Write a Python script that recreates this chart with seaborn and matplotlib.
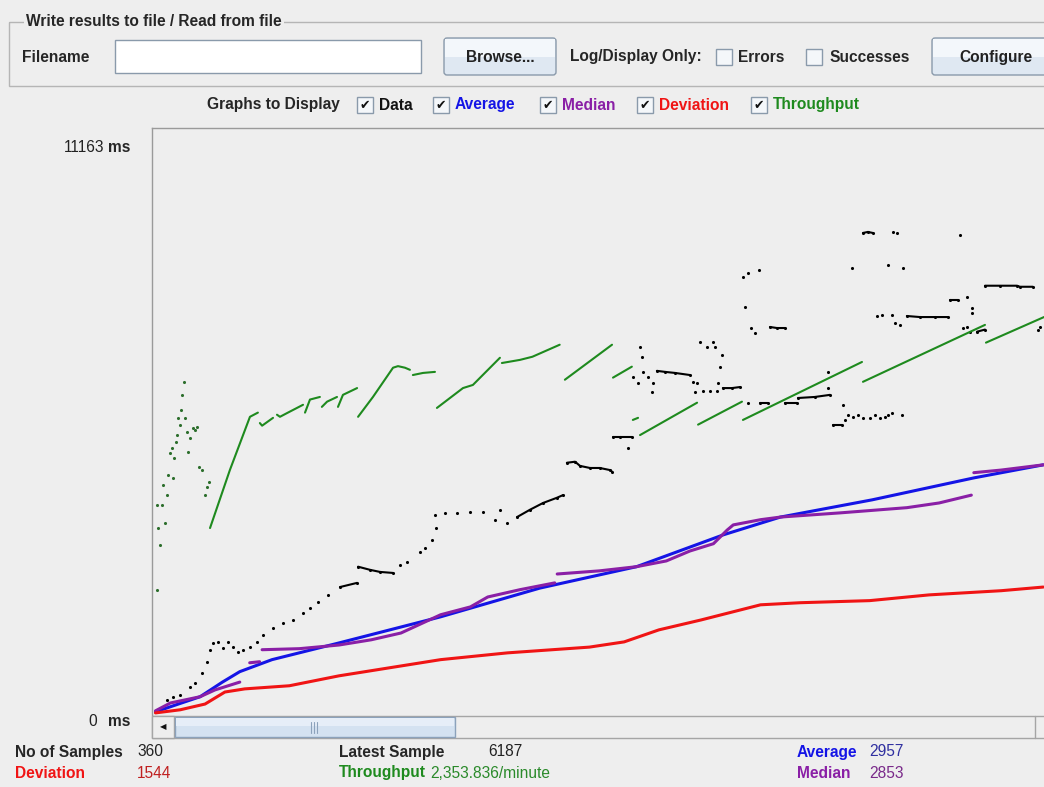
import numpy as np
import pandas as pd
import matplotlib
matplotlib.use("Agg")
import matplotlib.pyplot as plt
import seaborn as sns
from matplotlib.patches import Rectangle, FancyBboxPatch

# JMeter "Graph Results" screenshot
# x = sample number, y = time in ms

# Average (blue)
avg_x = [1, 9, 19, 28, 35, 48, 75, 116, 156, 195, 230, 253, 290, 331, 359]
avg_ms = [20, 150, 310, 590, 790, 1020, 1340, 1840, 2390, 2800, 3410, 3750, 4080, 4500, 4750]

# Deviation (red)
dev_x = [1, 11, 21, 29, 37, 55, 75, 116, 143, 176, 190, 204, 221, 245, 261, 289, 313, 342, 359]
dev_ms = [0, 60, 170, 400, 460, 520, 710, 1020, 1150, 1260, 1360, 1590, 1780, 2070, 2110, 2150, 2260, 2340, 2410]

# Median (purple), drawn in pieces
med_x = [1, 7, 19, 25, 35,
         39, 43,
         44, 59, 75, 88, 100, 116, 128, 135, 148, 162,
         163, 180, 195, 207, 216.5, 226, 231.5, 234, 245, 253, 277, 304, 317, 330,
         331, 342, 359]
med_ms = [40, 190, 310, 440, 590,
          960, 980,
          1210, 1230, 1300, 1400, 1530, 1880, 2030, 2220, 2360, 2490,
          2660, 2720, 2800, 2910, 3100, 3240, 3500, 3600, 3700, 3750, 3830, 3930, 4020, 4170,
          4600, 4650, 4750]
med_seg = [1] * 5 + [2] * 2 + [3] * 10 + [4] * 14 + [5] * 3

# Throughput (green), drawn in pieces
thr_x = [23.0, 31.0, 39.1, 42.3,
         43.1, 44.0, 48.4,
         50.0, 51.2, 54.0, 60.5,
         61.3, 63.3, 67.3,
         68.1, 70.2, 74.2,
         74.6, 76.6, 82.3,
         82.7, 88.7, 96.8, 98.8, 101.6, 103.6,
         104.8, 108.9, 113.7,
         114.5, 125.0, 129.0, 139.9,
         140.7, 148.0, 153.0, 164.0,
         166.1, 185.1,
         185.5, 193.1,
         193.5, 195.6,
         196.4, 219.4,
         219.8, 237.5,
         237.9, 285.9,
         286.3, 335.5,
         335.9, 359.3]
thr_ms = [3540, 4650, 5670, 5750,
          5550, 5500, 5650,
          5710, 5670, 5740, 5900,
          5750, 6000, 6050,
          5860, 5960, 6050,
          5860, 6090, 6220,
          5670, 6050, 6610, 6640, 6610, 6570,
          6470, 6510, 6530,
          5840, 6220, 6280, 6800,
          6700, 6760, 6820, 7050,
          6380, 7050,
          6420, 6630,
          5610, 5650,
          5320, 5940,
          5520, 5960,
          5610, 6720,
          6340, 7430,
          7090, 7580]
thr_seg = ([1] * 4 + [2] * 3 + [3] * 4 + [4] * 3 + [5] * 3 + [6] * 3 + [7] * 6 + [8] * 3 + [9] * 4
           + [10] * 4 + [11] * 2 + [12] * 2 + [13] * 2 + [14] * 2 + [15] * 2 + [16] * 2 + [17] * 2 + [18] * 2)

# early scattered throughput points
thr_dot_x = [1.6, 2.8, 2.0, 3.6, 4.0, 4.8, 5.6, 6.0, 6.9, 7.7, 8.1, 8.5, 9.3, 9.7, 10.1, 10.9,
             11.3, 11.7, 12.5, 12.9, 13.7, 14.1, 14.9, 16.1, 16.9, 17.7, 18.5, 19.8, 21.0, 21.8,
             22.6, 1.6]
thr_dot_ms = [3980, 3220, 3540, 3980, 4370, 3640, 4180, 4560, 4980, 5080, 4500, 4880, 5190, 5320,
              5650, 5520, 5800, 6090, 6340, 5650, 5380, 5000, 5270, 5460, 5420, 5480, 4710, 4650,
              4180, 4330, 4420, 2360]

# Data (black): run 0 = single dots, other numbers = short solid runs
data_x = [1.6, 5.6, 8.1, 10.9, 14.9, 16.9, 19.8, 21.8, 23.0, 24.2, 26.2, 28.2, 30.2, 32.3, 34.3,
          36.3, 39.1, 41.9, 44.4, 48.4, 52.4, 56.5, 60.5, 63.3, 66.5, 70.6,
          75.4, 82.3,
          82.7, 87.5, 91.5, 96.8,
          99.6, 102.4, 107.7, 109.7, 112.5, 114.1,
          113.7, 117.7, 122.6, 127.8, 133.1, 137.9, 139.9, 142.7,
          146.8, 152.0, 157.3, 162.9, 165.3,
          166.9, 170.2, 172.2, 176.2, 180.2, 184.3, 185.1,
          185.5, 188.3, 193.1,
          191.5, 196.4, 197.2, 193.5, 195.6, 197.6, 199.6, 201.6, 201.2,
          203.2, 206.5, 210.5, 216.5,
          217.7, 219.4, 220.6, 223.4, 225.8, 226.6, 229.4, 228.6, 227.8, 218.5, 221.8, 224.6, 227.4,
          229.8, 233.5, 236.7,
          237.9, 239.9, 244.4, 238.7, 241.1, 242.7,
          248.8, 251.6, 254.8,
          239.9,
          244.8, 248.0,
          254.8, 259.7,
          260.1, 266.9, 273.0,
          272.2, 272.2,
          274.2, 277.8,
          279.0, 280.2, 282.3, 284.3, 286.3, 289.1, 291.1, 293.1, 295.2, 296.4, 298.0, 302.0, 278.2,
          286.3, 288.3, 290.3,
          298.4, 300.0, 325.4, 281.9, 296.4, 302.4,
          291.9, 294.0, 298.0, 299.2, 301.2,
          304.0, 309.3, 315.3, 320.6,
          321.4, 324.6,
          328.2, 330.2, 330.2, 326.6, 328.2, 329.4,
          332.3, 335.5,
          335.5, 341.5, 348.4, 349.6, 354.8,
          356.9, 357.7]
data_ms = [60, 250, 310, 340, 500, 570, 770, 980, 1210, 1340, 1360, 1240, 1360, 1260, 1170,
           1210, 1260, 1360, 1490, 1630, 1720, 1780, 1920, 2010, 2130, 2260,
           2410, 2490,
           2800, 2740, 2700, 2680,
           2830, 2890, 3080, 3160, 3310, 3540,
           3790, 3830, 3830, 3850, 3850, 3700, 3890, 3640,
           3750, 3890, 4020, 4120, 4170,
           4790, 4810, 4730, 4690, 4690, 4650, 4620,
           5290, 5290, 5290,
           5070, 7010, 6820, 6430, 6320, 6530, 6430, 6320, 6150,
           6550, 6530, 6510, 6470,
           6340, 6320, 7100, 7010, 7100, 7010, 6860, 6630, 6320, 6150, 6170, 6170, 6170,
           6220, 6220, 6240,
           8350, 8430, 8480, 7770, 7370, 7280,
           7390, 7370, 7370,
           5940,
           5940, 5940,
           5940, 5940,
           6030, 6050, 6090,
           6220, 6530,
           5520, 5520,
           5610, 5710, 5670, 5710, 5650, 5650, 5710, 5650, 5670, 5710, 5750, 5710, 5900,
           9190, 9210, 9190,
           9210, 9190, 9150, 8520, 8580, 8520,
           7600, 7620, 7620, 7470, 7430,
           7600, 7580, 7580, 7580,
           7910, 7910,
           7970, 7760, 7660, 7370, 7390, 7300,
           7300, 7340,
           8180, 8180, 8180, 8160, 8160,
           7340, 7390]
data_run = ([0] * 26 + [1] * 2 + [2] * 4 + [0] * 6 + [0] * 8 + [3] * 5 + [4] * 7 + [5] * 3
            + [0] * 9 + [6] * 4 + [0] * 13 + [7] * 3 + [0] * 6 + [8] * 3 + [0] + [9] * 2 + [10] * 2
            + [11] * 3 + [0] * 2 + [12] * 2 + [0] * 13 + [13] * 3 + [0] * 6 + [0] * 5 + [14] * 4
            + [15] * 2 + [0] * 6 + [16] * 2 + [17] * 5 + [0] * 2)

# numbers shown below the graph
n_samples = "360"
latest = "6187"
average = "2957"
deviation = "1544"
throughput = "2,353.836/minute"
median = "2853"
y_max_label = "11163"

BG = "#eeeeee"
BLUE = "#1414e6"
PURPLE = "#8a1fa6"
RED = "#f01414"
GREEN = "#1e8a1e"
EDGE = "#8a9aab"

sns.set_style("white")
plt.rcParams["font.family"] = ["Liberation Sans", "DejaVu Sans"]

W, H = 1044, 787
fig = plt.figure(figsize=(W / 100, H / 100), dpi=100, facecolor=BG)

# overlay in pixel units for the window widgets
ui = fig.add_axes([0, 0, 1, 1])
ui.set_xlim(0, W)
ui.set_ylim(H, 0)
ui.axis("off")
ui.set_facecolor(BG)

FS = 11.2
bold = dict(fontsize=FS, fontweight="bold", va="center")
plain = dict(fontsize=FS, va="center")

# titled border
ui.add_patch(Rectangle((9, 22), 1060, 64, fill=False, ec="#b5b5b5", lw=1))
ui.text(26, 22, "Write results to file / Read from file", ha="left",
        bbox=dict(fc=BG, ec="none", pad=1.5), **bold)
ui.text(22, 57, "Filename", ha="left", **bold)
ui.add_patch(Rectangle((115, 40), 306, 33, fc="white", ec=EDGE, lw=1))


def button(x0, x1, y0, y1, label):
    ui.add_patch(FancyBboxPatch((x0, y0), x1 - x0, y1 - y0, boxstyle="round,pad=0,rounding_size=3",
                                fc="#dfe8f2", ec=EDGE, lw=1))
    ui.add_patch(Rectangle((x0 + 1, y0 + 1), x1 - x0 - 2, (y1 - y0) / 2 - 1, fc="#f3f7fb", ec="none"))
    ui.text((x0 + x1) / 2, (y0 + y1) / 2 + 1, label, ha="center", color="#222222", **bold)


def checkbox(x, y, checked):
    ui.add_patch(Rectangle((x, y - 8), 16, 16, fc="#f4f7fa", ec=EDGE, lw=1))
    if checked:
        ui.text(x + 8, y + 1, "\u2714", ha="center", va="center", fontsize=9, color="#111111",
                family="DejaVu Sans")


button(444, 556, 38, 75, "Browse...")
ui.text(570, 57, "Log/Display Only:", ha="left", **bold)
checkbox(716, 57, False)
ui.text(738, 57, "Errors", ha="left", **bold)
checkbox(806, 57, False)
ui.text(829, 57, "Successes", ha="left", **bold)
button(932, 1060, 38, 75, "Configure")

# graphs to display row
ui.text(207, 105, "Graphs to Display", ha="left", **bold)
legend_items = [(357, "Data", "#111111"), (433, "Average", BLUE), (540, "Median", PURPLE),
                (637, "Deviation", RED), (751, "Throughput", GREEN)]
for x, label, col in legend_items:
    checkbox(x, 105, True)
    ui.text(x + 22, 105, label, ha="left", color=col, **bold)

# y labels
ui.text(130, 148, "ms", ha="right", **bold)
ui.text(104, 148, y_max_label, ha="right", color="#222222", **plain)
ui.text(130, 722, "ms", ha="right", **bold)
ui.text(97, 722, "0", ha="right", color="#222222", **plain)

# scroll bar
ui.add_patch(Rectangle((152, 716), 900, 22, fc="#eeeeee", ec="#a5a5a5", lw=1))
ui.add_patch(Rectangle((152, 716), 22, 22, fc="#eeeeee", ec="#a5a5a5", lw=1))
ui.text(163, 727, "\u25c0", ha="center", va="center", fontsize=6, family="DejaVu Sans", color="#111111")
ui.add_patch(Rectangle((175, 717), 280, 20, fc="#d4e2f1", ec="#8ca2bb", lw=1))
ui.add_patch(Rectangle((176, 718), 278, 8, fc="#e6eef8", ec="none"))
for gx in (311, 314, 317):
    ui.plot([gx, gx], [722, 733], color="#8ca2bb", lw=0.8)
ui.plot([1035, 1035], [716, 738], color="#a5a5a5", lw=1)

# statistics
ui.text(15, 752, "No of Samples", ha="left", **bold)
ui.text(137, 752, n_samples, ha="left", color="#222222", **plain)
ui.text(339, 752, "Latest Sample", ha="left", **bold)
ui.text(488, 752, latest, ha="left", color="#222222", **plain)
ui.text(797, 752, "Average", ha="left", color=BLUE, **bold)
ui.text(869, 752, average, ha="left", color="#3030a0", **plain)
ui.text(15, 773, "Deviation", ha="left", color=RED, **bold)
ui.text(137, 773, deviation, ha="left", color="#c02020", **plain)
ui.text(339, 773, "Throughput", ha="left", color=GREEN, **bold)
ui.text(430, 773, throughput, ha="left", color="#2a8a2a", **plain)
ui.text(797, 773, "Median", ha="left", color=PURPLE, **bold)
ui.text(869, 773, median, ha="left", color="#7a2a8a", **plain)

# graph area
ax = fig.add_axes([152 / W, (H - 715) / H, (W - 152) / W, (715 - 128) / H])
ax.set_facecolor(BG)
ax.set_xlim(-0.4, 359.3)
ax.set_ylim(-40, 11200)
for side in ["right", "bottom"]:
    ax.spines[side].set_visible(False)
for side in ["left", "top"]:
    ax.spines[side].set_color("#9a9a9a")
    ax.spines[side].set_linewidth(1)
ax.set_xticks([])
ax.set_yticks([])

data_df = pd.DataFrame({"x": data_x, "ms": data_ms, "run": data_run})
avg_df = pd.DataFrame({"x": avg_x, "ms": avg_ms})
dev_df = pd.DataFrame({"x": dev_x, "ms": dev_ms})
med_df = pd.DataFrame({"x": med_x, "ms": med_ms, "seg": med_seg})
thr_df = pd.DataFrame({"x": thr_x, "ms": thr_ms, "seg": thr_seg})
thr_dots = pd.DataFrame({"x": thr_dot_x, "ms": thr_dot_ms})

# data points
sns.scatterplot(data=data_df, x="x", y="ms", color="black", marker="o", s=5, linewidth=0, ax=ax,
                legend=False)
runs = data_df[data_df["run"] > 0]
sns.lineplot(data=runs, x="x", y="ms", units="run", estimator=None, sort=False, color="black",
             lw=1.5, ax=ax, legend=False)

# average, median, deviation
sns.lineplot(data=avg_df, x="x", y="ms", color=BLUE, lw=2.2, ax=ax, legend=False)
sns.lineplot(data=med_df, x="x", y="ms", units="seg", estimator=None, sort=False, color=PURPLE,
             lw=2.2, ax=ax, legend=False)
sns.lineplot(data=dev_df, x="x", y="ms", color=RED, lw=2.2, ax=ax, legend=False)

# throughput
sns.lineplot(data=thr_df, x="x", y="ms", units="seg", estimator=None, sort=False, color=GREEN,
             lw=1.5, ax=ax, legend=False)
sns.scatterplot(data=thr_dots, x="x", y="ms", color="#2c6e2c", marker="o", s=5, linewidth=0, ax=ax,
                legend=False)

ax.set_xlabel("")
ax.set_ylabel("")

fig.savefig("out.png", dpi=100, facecolor=BG)
